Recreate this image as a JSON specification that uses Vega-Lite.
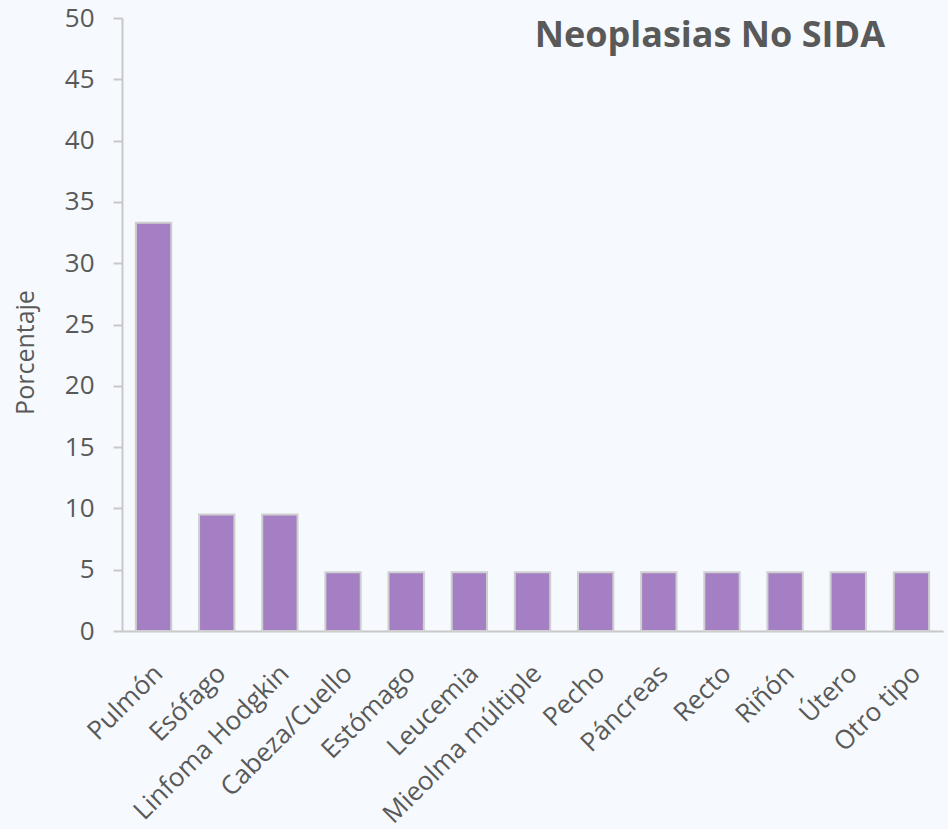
{
  "$schema": "https://vega.github.io/schema/vega-lite/v6.json",
  "width": 821,
  "height": 613,
  "autosize": "none",
  "padding": {"left": 122, "top": 18, "right": 5, "bottom": 198},
  "background": "#f6f9fd",
  "config": {
    "view": {"stroke": null},
    "font": "Open Sans"
  },
  "title": {
    "text": "Neoplasias No SIDA",
    "anchor": "end",
    "orient": "top",
    "dx": -58,
    "dy": 54,
    "fontSize": 36,
    "fontWeight": "bold",
    "color": "#595959",
    "font": "Open Sans"
  },
  "data": {
    "values": [
      {"tipo": "Pulmón", "pct": 33.3},
      {"tipo": "Esófago", "pct": 9.5},
      {"tipo": "Linfoma Hodgkin", "pct": 9.5},
      {"tipo": "Cabeza/Cuello", "pct": 4.8},
      {"tipo": "Estómago", "pct": 4.8},
      {"tipo": "Leucemia", "pct": 4.8},
      {"tipo": "Mieolma múltiple", "pct": 4.8},
      {"tipo": "Pecho", "pct": 4.8},
      {"tipo": "Páncreas", "pct": 4.8},
      {"tipo": "Recto", "pct": 4.8},
      {"tipo": "Riñón", "pct": 4.8},
      {"tipo": "Útero", "pct": 4.8},
      {"tipo": "Otro tipo", "pct": 4.8}
    ]
  },
  "mark": {"type": "bar", "color": "#a47fc4", "stroke": "#cfcfcf", "strokeWidth": 2},
  "encoding": {
    "x": {
      "field": "tipo",
      "type": "nominal",
      "sort": null,
      "scale": {"paddingInner": 0.44, "paddingOuter": 0.22},
      "axis": {
        "title": null,
        "labelAngle": -45,
        "labelAlign": "right",
        "labelBaseline": "middle",
        "labelFontSize": 26,
        "labelColor": "#595959",
        "labelPadding": 38,
        "labelOffset": 5,
        "labelLimit": 400,
        "labelOverlap": false,
        "ticks": false,
        "domainColor": "#c8c8c8",
        "domainWidth": 2
      }
    },
    "y": {
      "field": "pct",
      "type": "quantitative",
      "scale": {"domain": [0, 50], "nice": false},
      "axis": {
        "title": "Porcentaje",
        "titleFontSize": 25,
        "titleFontWeight": "normal",
        "titleColor": "#595959",
        "titleX": -84,
        "titleY": 334,
        "values": [0, 5, 10, 15, 20, 25, 30, 35, 40, 45, 50],
        "labelFontSize": 26,
        "labelColor": "#595959",
        "labelPadding": 19,
        "tickColor": "#c8c8c8",
        "tickWidth": 2,
        "tickSize": 9,
        "domainColor": "#c8c8c8",
        "domainWidth": 2,
        "grid": false
      }
    }
  }
}
